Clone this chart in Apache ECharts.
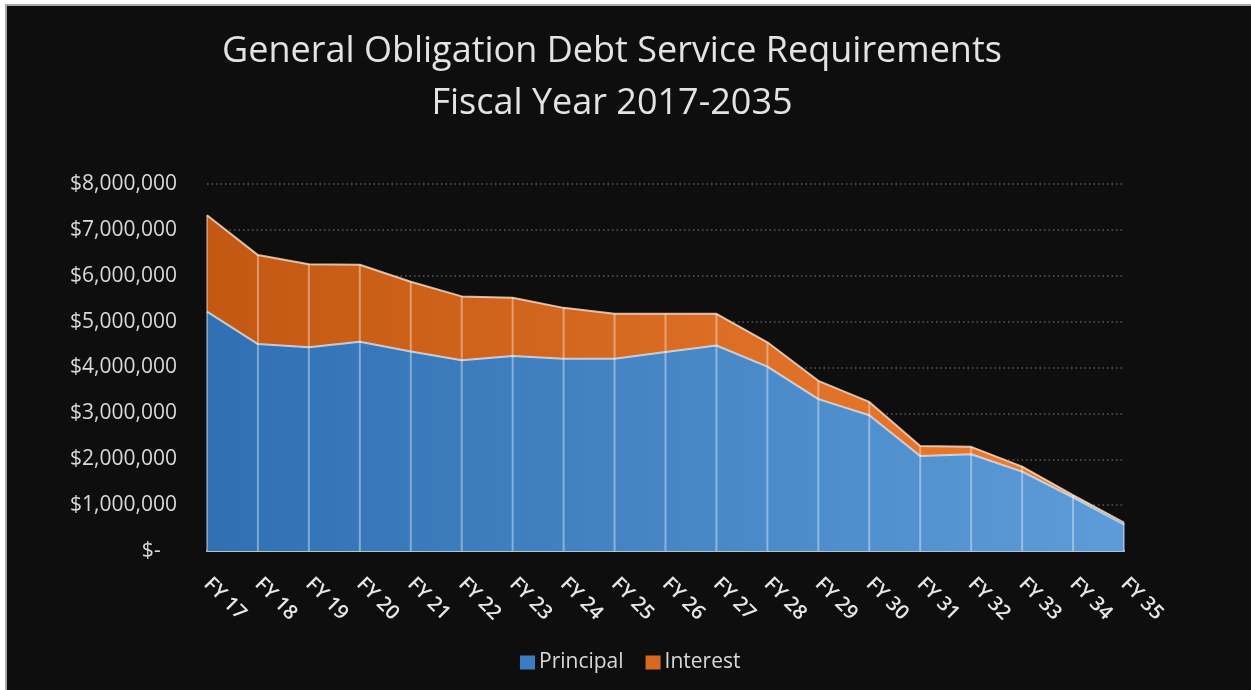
<!DOCTYPE html>
<html>
<head>
<meta charset="utf-8">
<script src="https://cdn.jsdelivr.net/npm/echarts@6/dist/echarts.min.js"></script>
<style>
  html, body { margin: 0; padding: 0; background: #ffffff; }
  #chart { position: absolute; left: 0; top: 0; width: 1251px; height: 690px; }
</style>
</head>
<body>
<div id="chart"></div>
<script>
// Fiscal years on the category axis
const years = ['FY 17','FY 18','FY 19','FY 20','FY 21','FY 22','FY 23','FY 24','FY 25','FY 26',
               'FY 27','FY 28','FY 29','FY 30','FY 31','FY 32','FY 33','FY 34','FY 35'];

// Annual principal payments (USD)
const principal = [5220000, 4510000, 4440000, 4560000, 4350000, 4160000, 4250000, 4190000, 4190000, 4340000,
                   4480000, 4020000, 3310000, 2960000, 2070000, 2110000, 1730000, 1170000, 580000];

// Annual interest payments (USD)
const interest = [2100000, 1940000, 1810000, 1680000, 1520000, 1390000, 1270000, 1110000, 980000, 830000,
                  690000, 530000, 400000, 290000, 220000, 160000, 110000, 50000, 40000];

const seriesNames = ['Principal', 'Interest'];
const titleLines = ['General Obligation Debt Service Requirements', 'Fiscal Year 2017-2035'];

const FONT = '"Open Sans", "Noto Sans", sans-serif';
const TEXT = '#d9d9d9';

const chart = echarts.init(document.getElementById('chart'), null, { renderer: 'canvas' });

const hGrad = (c0, c1) => new echarts.graphic.LinearGradient(0, 0, 1, 0, [
  { offset: 0, color: c0 }, { offset: 1, color: c1 }
]);

const totals = years.map((y, i) => [i, principal[i] + interest[i]]);

chart.setOption({
  backgroundColor: '#0e0e0e',
  animation: false,
  title: {
    text: titleLines.join('\n'),
    left: 607,
    textAlign: 'center',
    top: 21,
    textStyle: { color: '#e3e3e3', fontFamily: FONT, fontWeight: 'normal', fontSize: 36, lineHeight: 52 }
  },
  legend: {
    data: seriesNames,
    bottom: 12,
    left: 515,
    itemWidth: 15,
    itemHeight: 14,
    itemGap: 22,
    icon: 'rect',
    textStyle: { color: TEXT, fontFamily: FONT, fontSize: 21, padding: [0, 0, 0, -1] }
  },
  grid: { left: 207, right: 127, top: 184, bottom: 139 },
  xAxis: {
    type: 'category',
    data: years,
    boundaryGap: false,
    axisLine: { lineStyle: { color: '#bfbfbf', width: 2 } },
    axisTick: { show: false },
    axisLabel: { color: '#e6e6e6', fontFamily: FONT, fontSize: 20, fontWeight: 600, rotate: -45, margin: 30, interval: 0 },
    splitLine: { show: false }
  },
  yAxis: {
    type: 'value',
    min: 0,
    max: 8000000,
    interval: 1000000,
    axisLine: { show: false },
    axisTick: { show: false },
    axisLabel: {
      color: TEXT, fontFamily: FONT, fontSize: 21, margin: 30,
      formatter: v => v === 0 ? '$-   ' : '$' + v.toLocaleString('en-US')
    },
    splitLine: { lineStyle: { color: '#5a5a5a', type: [1.5, 3], width: 1.5 } }
  },
  graphic: [
    { type: 'rect', shape: { x: 0, y: 0, width: 1251, height: 4 }, style: { fill: '#ffffff' }, z: 100 },
    { type: 'rect', shape: { x: 0, y: 0, width: 5, height: 690 }, style: { fill: '#ffffff' }, z: 100 },
    { type: 'rect', shape: { x: 5, y: 4, width: 1246, height: 2 }, style: { fill: '#a8a8a8' }, z: 100 },
    { type: 'rect', shape: { x: 5, y: 4, width: 2, height: 686 }, style: { fill: '#a8a8a8' }, z: 100 }
  ],
  series: [
    {
      name: seriesNames[0],
      type: 'line',
      stack: 'debt',
      data: principal,
      showSymbol: false,
      itemStyle: { color: '#3b7cc2' },
      lineStyle: { color: 'rgba(225,238,252,0.75)', width: 2 },
      areaStyle: { color: hGrad('#2f70b3', '#5d9cd8'), opacity: 1 },
      z: 2
    },
    {
      name: seriesNames[1],
      type: 'line',
      stack: 'debt',
      data: interest,
      showSymbol: false,
      itemStyle: { color: '#d9691f' },
      lineStyle: { color: 'rgba(250,225,205,0.8)', width: 2 },
      areaStyle: { color: hGrad('#c25812', '#ef7e33'), opacity: 1 },
      z: 2
    },
    {
      // separators drawn at each fiscal year from the axis up to the stacked total
      type: 'custom',
      silent: true,
      data: totals,
      z: 3,
      renderItem: (params, api) => {
        const top = api.coord([api.value(0), api.value(1)]);
        const bot = api.coord([api.value(0), 0]);
        return {
          type: 'line',
          shape: { x1: top[0], y1: top[1], x2: bot[0], y2: bot[1] },
          style: { stroke: 'rgba(255,255,255,0.38)', lineWidth: 2 }
        };
      }
    }
  ]
});
</script>
</body>
</html>
